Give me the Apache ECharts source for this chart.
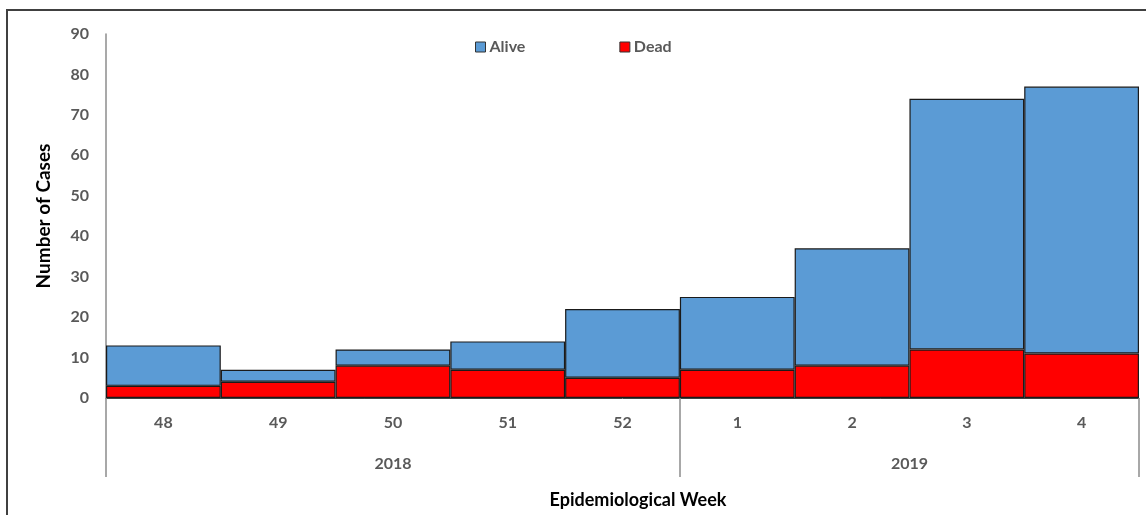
<!DOCTYPE html>
<html><head><meta charset="utf-8">
<script src="https://cdn.jsdelivr.net/npm/echarts@6/dist/echarts.min.js"></script>
<style>html,body{margin:0;padding:0;background:#fff}#c{width:1146px;height:515px}</style>
</head><body><div id="c"></div>
<script>
const weeks = ['48', '49', '50', '51', '52', '1', '2', '3', '4'];
const years = ['2018', '2018', '2018', '2018', '2018', '2019', '2019', '2019', '2019'];
const alive = [10, 3, 4, 7, 17, 18, 29, 62, 66];
const dead = [3, 4, 8, 7, 5, 7, 8, 12, 11];
const seriesNames = ['Alive', 'Dead'];
const yMin = 0, yMax = 90, yStep = 10;

// year groups derived from the years array
const groups = [];
years.forEach((y, i) => {
  const g = groups[groups.length - 1];
  if (g && g.year === y) g.count++;
  else groups.push({ year: y, start: i, count: 1 });
});
const boundaryIdx = groups.map(g => g.start);
const groupCenters = groups.map(g => g.start + g.count / 2);

const FONT = 'Lato';
const GRAY = '#595959';

const chart = echarts.init(document.getElementById('c'));
chart.setOption({
  animation: false,
  backgroundColor: '#fff',
  textStyle: { fontFamily: FONT },
  grid: { left: 106, right: 7, top: 34, bottom: 117, containLabel: false },
  legend: {
    data: seriesNames,
    left: 470, top: 34,
    itemWidth: 10, itemHeight: 10, itemGap: 94,
    icon: 'rect',
    itemStyle: { borderColor: '#333', borderWidth: 1 },
    textStyle: { fontFamily: FONT, fontSize: 16, fontWeight: 'bold', color: GRAY, padding: [0, 0, 0, -1] }
  },
  xAxis: [{
    type: 'category',
    data: weeks,
    boundaryGap: true,
    axisLine: { show: true, lineStyle: { color: '#404040', width: 1 } },
    axisTick: {
      show: true, inside: false, length: 79,
      interval: (index) => boundaryIdx.includes(index),
      lineStyle: { color: '#8c8c8c', width: 1.5 }
    },
    axisLabel: { interval: 0, margin: 17, fontFamily: FONT, fontSize: 16, fontWeight: 'bold', color: GRAY },
    splitLine: { show: false }
  }, {
    type: 'value',
    position: 'bottom',
    min: 0, max: weeks.length,
    offset: 0,
    axisLine: { show: false },
    axisTick: { show: false },
    splitLine: { show: false },
    axisLabel: {
      customValues: groupCenters,
      formatter: (v) => { const g = groups.find(gg => gg.start + gg.count / 2 === v); return g ? g.year : ''; },
      margin: 58, fontFamily: FONT, fontSize: 16, fontWeight: 'bold', color: GRAY
    }
  }],
  yAxis: {
    type: 'value',
    min: yMin, max: yMax, interval: yStep,
    name: 'Number of Cases',
    nameLocation: 'middle',
    nameGap: 53,
    nameTextStyle: { fontFamily: FONT, fontSize: 19, fontWeight: 'bold', color: '#000' },
    axisLine: { show: true, lineStyle: { color: '#8c8c8c', width: 1.5 } },
    axisTick: { show: false },
    splitLine: { show: false },
    axisLabel: { margin: 17, fontFamily: FONT, fontSize: 16, fontWeight: 'bold', color: GRAY }
  },
  graphic: [
    { type: 'rect', shape: { x: 7, y: 10, width: 1300, height: 700 }, style: { fill: null, stroke: '#404040', lineWidth: 2 }, silent: true, z: 100 },
    { type: 'text', x: 638, y: 500, style: { text: 'Epidemiological Week', font: 'bold 18px ' + FONT, fill: '#000', textAlign: 'center', textVerticalAlign: 'middle' } }
  ],
  series: [{
    name: 'Dead', type: 'bar', stack: 'total', data: dead,
    barCategoryGap: '0%',
    itemStyle: { color: '#FF0000', borderColor: '#1a1a1a', borderWidth: 1.2 }
  }, {
    name: 'Alive', type: 'bar', stack: 'total', data: alive,
    barCategoryGap: '0%',
    itemStyle: { color: '#5B9BD5', borderColor: '#1a1a1a', borderWidth: 1.2 }
  }]
});
</script></body></html>
